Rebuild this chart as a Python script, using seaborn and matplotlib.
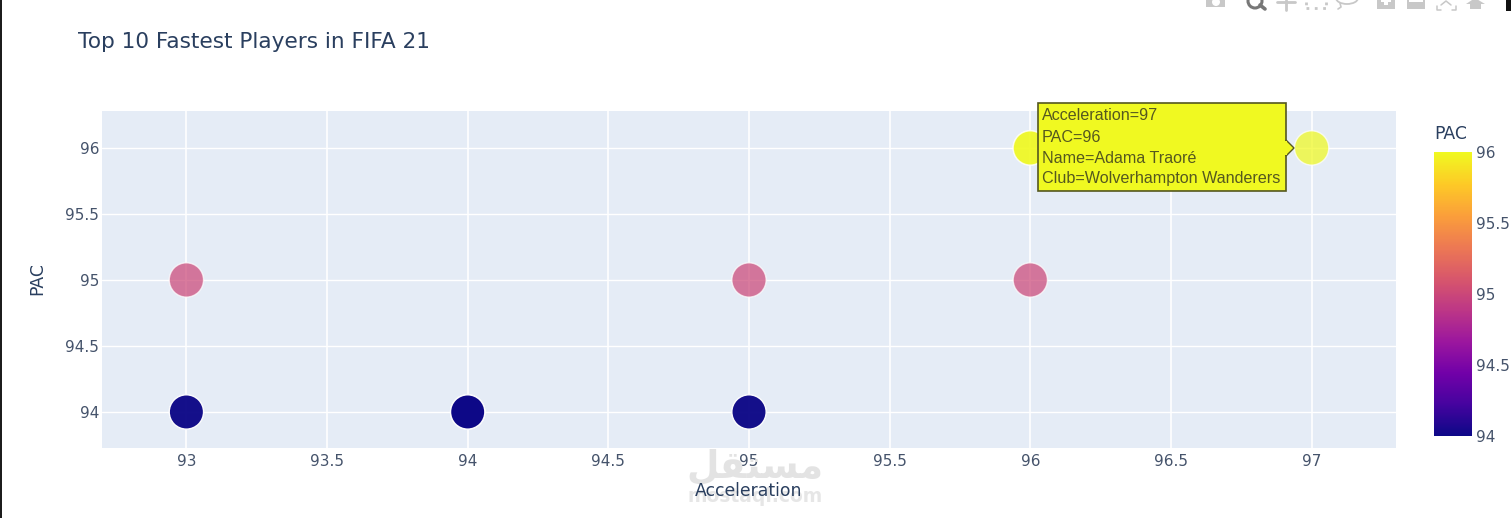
"""
Top 10 fastest players scatter, plotly look
"""

import matplotlib.pyplot as plt
import matplotlib.patches as mpatches
import pandas as pd
import seaborn as sns
from matplotlib.cm import ScalarMappable
from matplotlib.colors import LinearSegmentedColormap, Normalize
from matplotlib.lines import Line2D

W, H = 1511, 518

acceleration = [93, 94, 95, 93, 95, 96, 96, 96, 97, 94]
pac = [94, 94, 94, 95, 95, 95, 96, 96, 96, 94]
tooltip_lines = ['Acceleration=97', 'PAC=96', 'Name=Adama Traoré',
                 'Club=Wolverhampton Wanderers']
x_ticks = [93, 93.5, 94, 94.5, 95, 95.5, 96, 96.5, 97]
y_ticks = [94, 94.5, 95, 95.5, 96]
cbar_ticks = [94, 94.5, 95, 95.5, 96]
plasma_stops = ['#0d0887', '#46039f', '#7201a8', '#9c179e', '#bd3786',
                '#d8576b', '#ed7953', '#fb9f3a', '#fdca26', '#f0f921']

TEXT = '#2a3f5f'
TICK = '#45536b'
ICON = '#c8c8c8'


def px_rect(x0, y0, x1, y1):
    """Figure-fraction rectangle from pixel corners (y counted from the top)"""
    return [x0 / W, 1 - y1 / H, (x1 - x0) / W, (y1 - y0) / H]


def fx(x):
    return x / W


def fy(y):
    return 1 - y / H


def add_box(x0, y0, x1, y1, color, zorder=5):
    fig.add_artist(mpatches.Rectangle((fx(x0), fy(y1)), (x1 - x0) / W, (y1 - y0) / H,
                                      transform=fig.transFigure, facecolor=color,
                                      edgecolor='none', zorder=zorder))


def add_line(xs, ys, color=ICON, lw=1.5, ls='-'):
    fig.add_artist(Line2D([fx(x) for x in xs], [fy(y) for y in ys], color=color,
                          linewidth=lw, linestyle=ls, transform=fig.transFigure, zorder=5))


df = pd.DataFrame({'Acceleration': acceleration, 'PAC': pac})
cmap = LinearSegmentedColormap.from_list('plotly_plasma', plasma_stops)
norm = Normalize(94, 96)

sns.set_theme(style='white')
plt.rcParams['font.family'] = ['DejaVu Sans']

fig = plt.figure(figsize=(W / 100, H / 100), dpi=100, facecolor='white')
ax = fig.add_axes(px_rect(102, 111, 1396, 448), facecolor='#e5ecf6')

# The navy points read as solid in the screenshot, the others are see-through
for subset, alpha in [(df[df['PAC'] == 94], 0.97), (df[df['PAC'] > 94], 0.72)]:
    sns.scatterplot(data=subset, x='Acceleration', y='PAC', hue='PAC', hue_norm=norm,
                    palette=cmap, s=610, alpha=alpha, edgecolor='white',
                    linewidth=1, legend=False, zorder=3, ax=ax)

ax.set_xlim(92.70, 97.30)
ax.set_ylim(93.727, 96.28)
ax.set_xticks(x_ticks)
ax.set_xticklabels([f'{t:g}' for t in x_ticks])
ax.set_yticks(y_ticks)
ax.set_yticklabels([f'{t:g}' for t in y_ticks])
ax.grid(True, axis='x', color='white', linewidth=1.2, zorder=1)
ax.grid(True, axis='y', color='white', linewidth=1.0, zorder=1)
ax.set_axisbelow(True)
ax.tick_params(length=0, labelsize=11, labelcolor=TICK)
ax.tick_params(axis='x', pad=4)
ax.tick_params(axis='y', pad=2)
for spine in ax.spines.values():
    spine.set_visible(False)
ax.set_xlabel('')
ax.set_ylabel('')

# Watermark goes under the axis title
fig.text(fx(755), fy(467), 'ﻞﻘﺘﺴﻣ', ha='center', va='center', fontsize=27,
         fontweight='bold', color='#e3e3e3', zorder=0)
fig.text(fx(755), fy(497), 'mostaql.com', ha='center', va='center', fontsize=13.5,
         fontweight='bold', color='#e6e6e6', zorder=0)

fig.text(fx(78), fy(42), 'Top 10 Fastest Players in FIFA 21', ha='left', va='center',
         fontsize=15.6, color=TEXT)
fig.text(fx(749), fy(491), 'Acceleration', ha='center', va='center',
         fontsize=12.4, color=TEXT)
fig.text(fx(37), fy(279), 'PAC', ha='center', va='center', rotation=90,
         fontsize=12.4, color=TEXT)

# Colorbar
cax = fig.add_axes(px_rect(1434, 152, 1472, 436))
cbar = fig.colorbar(ScalarMappable(norm=norm, cmap=cmap), cax=cax)
cbar.outline.set_visible(False)
cbar.set_ticks(cbar_ticks)
cbar.set_ticklabels([f'{t:g}' for t in cbar_ticks])
cbar.ax.tick_params(length=0, labelsize=11, labelcolor=TICK, pad=3)
fig.text(fx(1434), fy(134), 'PAC', ha='left', va='center', fontsize=12.4, color=TEXT)

# Hover tooltip pointing at the hovered point
box = mpatches.Rectangle((fx(1038), fy(191)), 248 / W, 88 / H, transform=fig.transFigure,
                         facecolor='#f0f921', edgecolor='#55581f', linewidth=1.2, zorder=6)
fig.add_artist(box)
pointer = mpatches.Polygon([(fx(1286), fy(140)), (fx(1294), fy(148)), (fx(1286), fy(156))],
                           closed=True, transform=fig.transFigure, facecolor='#f0f921',
                           edgecolor='#55581f', linewidth=1.0, zorder=6)
fig.add_artist(pointer)
add_box(1284.5, 141, 1287, 155, '#f0f921', zorder=7)
for line, y in zip(tooltip_lines, [116, 137, 158, 179]):
    fig.text(fx(1042), fy(y), line, ha='left', va='center', fontsize=11.6,
             family='Liberation Sans', color='#55581f', zorder=8)

# Plotly modebar, cut by the top of the screenshot
add_box(1206, 0, 1225, 7, ICON)
fig.add_artist(mpatches.Ellipse((fx(1216), fy(2)), 8 / W, 8 / H, transform=fig.transFigure,
                                facecolor='white', edgecolor='none', zorder=6))
fig.add_artist(mpatches.Ellipse((fx(1255), fy(1)), 14 / W, 14 / H, transform=fig.transFigure,
                                facecolor='none', edgecolor='#777777', linewidth=2.2, zorder=5))
add_line([1260, 1265], [5, 9], color='#777777', lw=2.6)
add_line([1277, 1295], [2, 2], lw=2)
add_line([1286, 1286], [0, 10], lw=2)
add_line([1306, 1326], [8, 8], lw=2, ls=(0, (1, 2)))
add_line([1306, 1306], [2, 8], lw=2, ls=(0, (1, 2)))
add_line([1326, 1326], [2, 8], lw=2, ls=(0, (1, 2)))
fig.add_artist(mpatches.Ellipse((fx(1347), fy(-2)), 22 / W, 12 / H, transform=fig.transFigure,
                                facecolor='none', edgecolor=ICON, linewidth=1.3, zorder=5))
add_line([1340, 1341, 1338], [3, 7, 9], lw=1.2)
add_box(1377, 0, 1395, 9, ICON)
add_box(1384, 0, 1388, 5, 'white', zorder=6)
add_box(1381, 0, 1391, 2, 'white', zorder=6)
add_box(1407, 0, 1425, 9, ICON)
add_box(1409, 0, 1423, 2, 'white', zorder=6)
add_line([1437, 1437, 1441], [6, 10, 10], lw=1.1)
add_line([1452, 1456, 1456], [10, 10, 6], lw=1.1)
add_line([1441, 1446, 1451], [5, 1, 5], lw=1.1)
fig.add_artist(mpatches.Polygon([(fx(1466), fy(4)), (fx(1475), fy(-2)), (fx(1485), fy(4)),
                                 (fx(1481), fy(4)), (fx(1481), fy(9)), (fx(1470), fy(9)),
                                 (fx(1470), fy(4))],
                                closed=True, transform=fig.transFigure, facecolor=ICON,
                                edgecolor='none', zorder=5))

# Dark browser edges of the screenshot
add_box(0, 0, 2, H, '#1c1c1c')
add_box(1506, 0, 1511, 11, '#111111')

fig.savefig('out.png', dpi=100)
plt.close(fig)
